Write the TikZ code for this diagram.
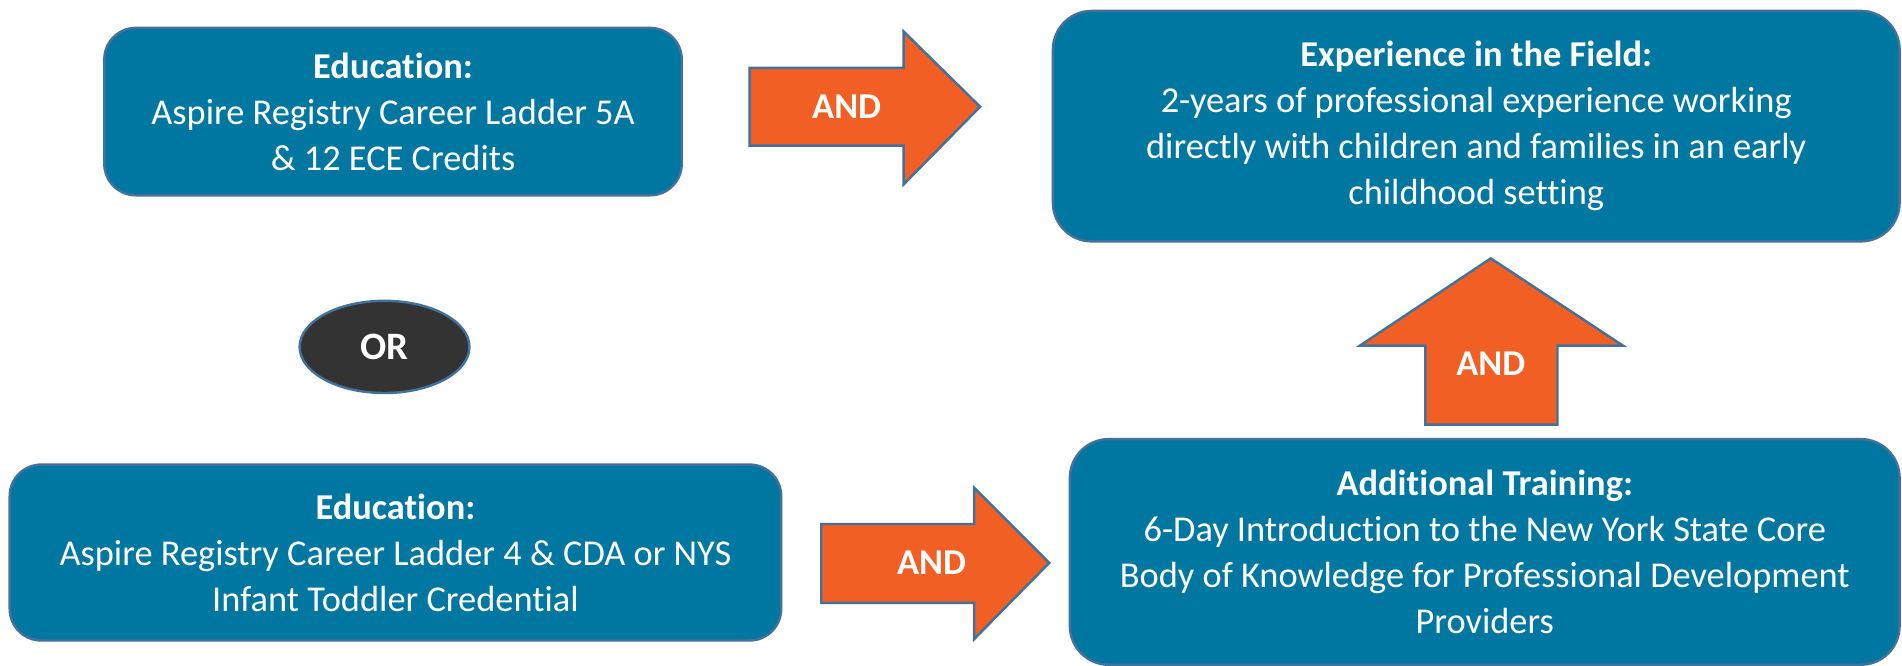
\documentclass[tikz,border=0pt]{standalone}
\usepackage{fontspec}
\setmainfont{Carlito}[Ligatures=NoCommon]
\usetikzlibrary{shapes.geometric}
\definecolor{boxTeal}{RGB}{0,119,161}
\definecolor{edgeBlue}{RGB}{65,113,156}
\definecolor{andOrange}{RGB}{242,95,36}
\definecolor{orGrey}{RGB}{51,51,51}
\tikzset{
    stepbox/.style={draw=edgeBlue, line width=1pt, fill=boxTeal, rounded corners=13pt,
        text=white, align=center, inner sep=0pt, font=\fontsize{15}{19}\selectfont},
    andarrow/.style={draw=edgeBlue, line width=1pt, fill=andOrange},
    andlabel/.style={text=white, font=\fontsize{15}{18}\selectfont\bfseries}
}

\begin{document}
\begin{tikzpicture}[x=0.5pt, y=-0.5pt]
    \useasboundingbox (0,0) rectangle (1568,549);
    % requirement boxes
    \node[stepbox, minimum width=238pt, minimum height=69pt] (eduA) at (324,92)
        {\textbf{Education:}\\Aspire Registry Career Ladder 5A\\\& 12 ECE Credits};
    \node[stepbox, minimum width=349pt, minimum height=95pt, rounded corners=16pt] (field) at (1217,104)
        {\textbf{Experience in the Field:}\\2-years of professional experience working\\directly with children and families in an early\\childhood setting};
    \node[stepbox, minimum width=318pt, minimum height=72.5pt] (eduB) at (326,455.5)
        {\textbf{Education:}\\Aspire Registry Career Ladder 4 \& CDA or NYS\\Infant Toddler Credential};
    \node[stepbox, minimum width=342pt, minimum height=93pt, rounded corners=16pt] (training) at (1224,455)
        {\textbf{Additional Training:}\\6-Day Introduction to the New York State Core\\Body of Knowledge for Professional Development\\Providers};
    % the OR between the two routes
    \node[ellipse, draw=edgeBlue, line width=1pt, fill=orGrey, minimum width=70pt, minimum height=38pt,
        text=white, font=\fontsize{16}{18}\selectfont\bfseries] (or) at (317,286) {OR};
    % block arrows
    \draw[andarrow] (618,56) -- (745,56) -- (745,26) -- (808,88) -- (745,152) -- (745,120) -- (618,120) -- cycle;
    \node[andlabel] (andA) at (698,88) {AND};
    \draw[andarrow] (677,432) -- (803,432) -- (803,402) -- (865,464) -- (803,527) -- (803,497) -- (677,497) -- cycle;
    \node[andlabel] (andB) at (768,464) {AND};
    \draw[andarrow] (1175,350) -- (1175,285) -- (1121,285) -- (1229,213) -- (1338,285) -- (1284,285) -- (1284,350) -- cycle;
    \node[andlabel] (andC) at (1229,300) {AND};
\end{tikzpicture}
\end{document}
